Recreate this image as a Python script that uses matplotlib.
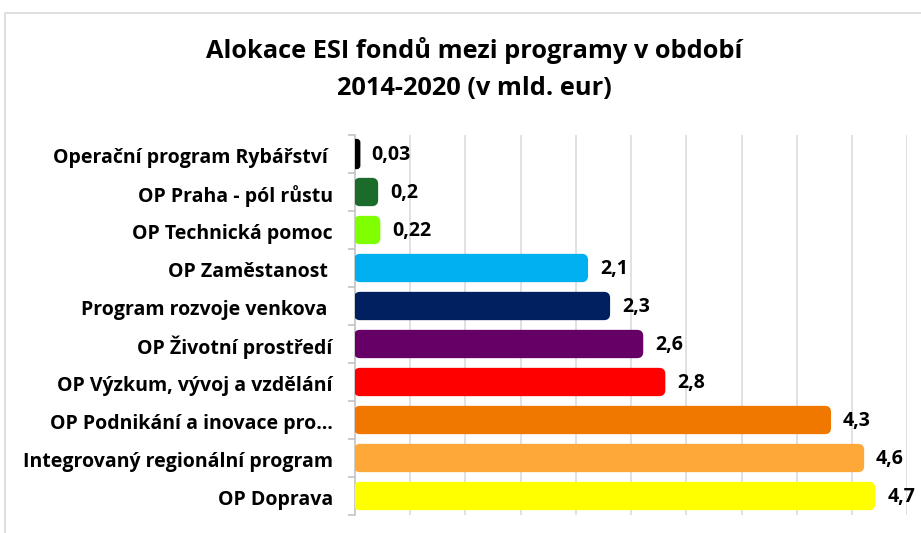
import matplotlib
matplotlib.use("Agg")
import matplotlib.pyplot as plt
from matplotlib.patches import FancyBboxPatch, Rectangle
import numpy as np

categories = [
    "Operační program Rybářství ",
    "OP Praha - pól růstu",
    "OP Technická pomoc",
    "OP Zaměstanost ",
    "Program rozvoje venkova ",
    "OP Životní prostředí",
    "OP Výzkum, vývoj a vzdělání",
    "OP Podnikání a inovace pro…",
    "Integrovaný regionální program",
    "OP Doprava",
]
values = [0.03, 0.2, 0.22, 2.1, 2.3, 2.6, 2.8, 4.3, 4.6, 4.7]
value_labels = ["0,03", "0,2", "0,22", "2,1", "2,3", "2,6", "2,8", "4,3", "4,6", "4,7"]
colors = ["#000000", "#1B6B2B", "#80FF00", "#00B0F0", "#002060",
          "#660066", "#FF0000", "#F07800", "#FDA838", "#FFFF00"]
title = "Alokace ESI fondů mezi programy v období\n2014-2020 (v mld. eur)"

plt.rcParams['font.family'] = ['Open Sans', 'DejaVu Sans']

W, H = 921, 533
fig = plt.figure(figsize=(W / 100, H / 100), dpi=100)

# outer chart frame
fig.patches.append(Rectangle((5 / W, -0.1), 1.2, 1 - 13 / H + 0.1, transform=fig.transFigure,
                             fill=False, edgecolor="#d9d9d9", linewidth=1.2))

left, right = 355 / W, 907.3 / W
top, bottom = 1 - 135 / H, 1 - 515 / H
ax = fig.add_axes([left, bottom, right - left, top - bottom])

n = len(categories)
ypos = np.arange(n)
xmax = 5.0
ax.set_xlim(0, xmax)
ax.set_ylim(n - 0.5, -0.5)

bar_h = 0.69
px_x = (right - left) * W / xmax
px_y = (top - bottom) * H / n
r_px = 5
rx = r_px / px_x
aspect = (r_px / px_y) / rx
for y, v, c, lab in zip(ypos, values, colors, value_labels):
    rs = min(rx, v / 2)
    lw = 3.0 if v < 0.1 else 1.5
    p = FancyBboxPatch((0, y - bar_h / 2), v, bar_h,
                       boxstyle=f"round,pad=0,rounding_size={rs}",
                       mutation_aspect=aspect, facecolor=c, edgecolor=c,
                       linewidth=lw, zorder=3)
    ax.add_patch(p)
    ax.text(v + 13 / px_x, y + 0.03, lab, va="center", ha="left", fontsize=14,
            fontweight="bold", color="black", zorder=4)

# grid
ax.set_xticks(np.arange(0.5, xmax + 0.01, 0.5))
ax.xaxis.grid(True, color="#d9d9d9", linewidth=1.1, zorder=0)
ax.tick_params(axis="x", length=0, labelbottom=False)
ax.set_axisbelow(True)

ax.set_yticks(ypos + 0.03)
ax.set_yticklabels(categories, fontsize=14, fontweight="bold")
ax.tick_params(axis="y", which="major", length=0, pad=16)
ax.set_yticks(np.arange(-0.5, n, 1.0), minor=True)
ax.tick_params(axis="y", which="minor", length=5, width=1.1, color="#bfbfbf")

for s in ["top", "right", "bottom"]:
    ax.spines[s].set_visible(False)
ax.spines["left"].set_color("#bfbfbf")
ax.spines["left"].set_linewidth(1.1)

fig.text(474 / W, 1 - 69 / H, title, ha="center", va="center", fontsize=18.3,
         fontweight="bold", linespacing=1.6)

fig.savefig("out.png", dpi=100)
